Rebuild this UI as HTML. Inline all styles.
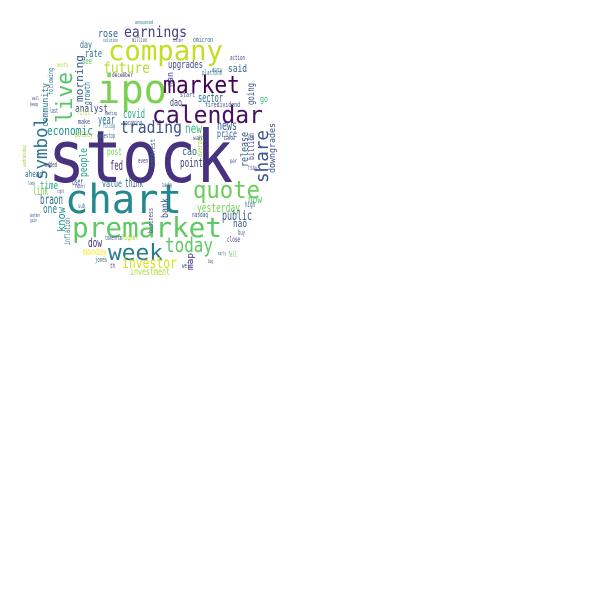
<!DOCTYPE html>
<html><head><meta charset="utf-8"><style>
html,body{margin:0;padding:0;background:#fff;width:600px;height:600px;overflow:hidden}
svg{display:block}
text{font-family:"DejaVu Sans Mono","Liberation Mono",monospace}
</style></head><body>
<svg id="cloud" width="600" height="600" viewBox="0 0 600 600">
<rect width="600" height="600" fill="#fff"/>
<g id="words"></g>
</svg>
<script>
const words=["stock","chart","premarket","ipo","company","market","calendar","quote","week","today",
"trading","earnings","live","symbol","share","downgrades","release","billion","investor","investment",
"future","news","new","point","cao","covid","year","analyst","economic","rose",
"day","rate","see","morning","community","growth","following","people","fed","post",
"ahead","added","user","time","link","value","think","braon","one","know",
"inflation","dow","monday","jones","th","tokenrsm","higher","yesterday","now","high",
"public","nao","nasdaq","buy","close","fell","map","well","bank","business",
"interest","average","upgrades","said","action","platform","data","sector","dao","going",
"go","firedividend","start","price","ich","take","want","nan","million","omicron",
"solution","insider","announced","december","first","make","filing","policy","upcoming","gamestop",
"meeting","month","last","even","tuesday","per","friday","early","big","wednesday",
"sub","wall","keep","another","gain","right","report","look"];
const xs=[48,65,72,97,108,163,152,193,108,165,
120,124,72,47,268,275,248,254,122,130,
103,217,185,180,182,123,98,75,47,98,
80,85,82,83,48,90,53,87,110,107,
25,45,72,40,33,102,125,40,43,65,
70,88,83,95,110,105,122,197,248,245,
222,233,192,238,227,228,193,182,168,153,
155,202,168,228,230,202,212,198,170,254,
260,205,180,217,247,223,193,173,132,193,
103,173,135,112,77,78,103,75,123,97,
105,57,50,138,162,230,248,218,208,26,
78,32,30,30,30,57,75,28];
const ys=[182,213,237,103,60,93,123,198,260,252,
133,37,123,180,183,173,167,160,268,275,
73,130,133,167,155,118,124,112,135,37,
48,57,64,102,127,105,95,177,170,155,
177,167,185,189,195,187,187,204,213,232,
245,247,255,262,268,240,240,212,203,207,
220,227,217,235,242,257,270,268,218,233,
167,157,68,72,60,75,72,102,106,105,
102,107,97,137,140,140,140,87,42,42,
42,42,24,77,115,124,128,137,125,138,
115,67,113,163,187,163,170,255,263,167,
208,100,106,217,222,193,188,185];
const sizes=[72,40,28,40,28,24,24,24,22,20,
17,15,22,18,18,9,11,8,15,10,
15,13,13,12,11,12,12,11,12,11,
10,11,9,11,9,9,7,11,13,10,
9,7,10,11,12,10,12,13,12,11,
8,12,10,7,7,7,8,12,11,8,
13,11,7,7,8,8,9,7,10,7,
7,7,11,11,7,7,6,12,11,10,
9,7,7,10,7,6,6,9,6,7,
5,5,5,6,7,7,6,8,7,7,
5,6,7,7,6,6,6,5,5,5,
6,5,5,5,5,5,5,5];
const lengths=[185,117,150,70,115,77,111,67,55,48,
62,63,51,63,53,50,35,27,55,40,
47,20,17,23,15,22,17,33,46,20,
12,17,10,47,44,23,27,29,13,15,
18,12,11,18,15,20,18,23,14,25,
27,14,24,12,5,17,16,43,14,10,
30,14,16,7,13,9,17,10,20,25,
28,22,35,19,15,20,10,25,12,22,
8,35,15,20,7,12,12,15,15,20,
15,10,18,21,13,12,12,18,19,18,
12,11,8,10,10,7,9,8,5,22,
7,7,8,10,7,7,10,7];
const colors=["#46327e","#23898e","#5ec962","#7ad151","#c2df23","#440154","#471063","#6ccd5a","#287c8e","#5ec962",
"#3b528b","#433e85","#54c568","#2c718e","#3b528b","#3b528b","#38588c","#433d84","#d5e21a","#a8db34",
"#b5de2b","#355f8d","#3aba76","#414487","#31688e","#27ad81","#2a788e","#3e4a89","#21918c","#35608d",
"#2e6e8e","#2a788e","#5ec962","#38598c","#2c728e","#2a788e","#2c728e","#1f9e89","#46327e","#6ece58",
"#2c728e","#433e85","#3e4989","#22a884","#7ad151","#2e6f8e","#3b528b","#2d708e","#26828e","#1f968b",
"#2c728e","#46337f","#fde725","#31688e","#3e4989","#3b528b","#a8db34","#75d054","#52c569","#31688e",
"#365c8d","#355f8d","#3b528b","#31688e","#3e4a89","#6ece58","#472d7b","#3b528b","#3b528b","#3e4a89",
"#31688e","#a0da39","#3e4a89","#31688e","#3e4a89","#2c728e","#2a788e","#2c728e","#424086","#3b528b",
"#35b779","#3e4a89","#3b528b","#33628d","#3e4a89","#3b528b","#3e4a89","#3b528b","#3e4a89","#2c728e",
"#2c728e","#3e4a89","#2c728e","#482475","#b5de2b","#3e4a89","#31688e","#a0da39","#3b528b","#31688e",
"#3e4a89","#b5de2b","#3e4a89","#433e85","#3e4a89","#3b528b","#433e85","#2c728e","#46327e","#a0da39",
"#2c728e","#3e4a89","#3b528b","#3e4a89","#2c728e","#3b528b","#3e4a89","#3b528b"];
const rotated=[0,0,0,0,0,0,0,0,0,0,
0,0,1,1,1,1,1,1,0,0,
0,0,0,0,0,0,0,0,0,0,
0,0,0,1,1,1,1,1,0,0,
0,0,0,0,0,0,0,0,0,1,
1,0,0,0,0,0,0,0,0,0,
0,0,0,0,0,0,1,0,1,1,
1,1,0,0,0,0,0,0,0,1,
0,0,0,0,0,0,0,1,0,0,
0,0,0,0,0,0,0,0,0,0,
0,0,0,0,0,0,0,0,0,1,
0,0,0,0,0,0,0,0];
const g=document.getElementById('words');
const NS='http://www.w3.org/2000/svg';
for(let i=0;i<words.length;i++){
  const t=document.createElementNS(NS,'text');
  
  
  t.setAttribute('font-size',sizes[i]);
  t.setAttribute('fill',colors[i]);
  t.setAttribute('textLength',lengths[i]);
  t.setAttribute('lengthAdjust','spacingAndGlyphs');
  if(rotated[i]){
    t.setAttribute('x',0);t.setAttribute('y',0);
    t.setAttribute('transform','translate('+xs[i]+','+ys[i]+') rotate(-90)');
  }else{
    t.setAttribute('x',xs[i]);t.setAttribute('y',ys[i]);
  }
  t.textContent=words[i];
  g.appendChild(t);
}
</script>
</body></html>
